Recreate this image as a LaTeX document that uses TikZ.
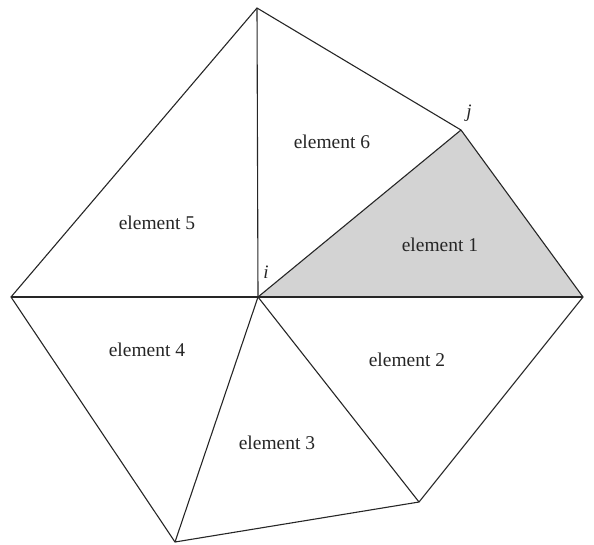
\documentclass[tikz,border=0pt]{standalone}
\usepackage{fontspec}
\setmainfont{Liberation Serif}
\begin{document}
\begin{tikzpicture}[x=1pt,y=-1pt,
  edge/.style={draw=black!85,line width=1.1pt,line join=miter},
  elabel/.style={font=\fontsize{19.5}{22}\selectfont,text=black!85},
  vlabel/.style={font=\fontsize{19}{21}\selectfont\itshape,text=black!85}]
\useasboundingbox (0,0) rectangle (594,544);
\coordinate (i) at (258,297);
\coordinate (t) at (257,8);
\coordinate (j) at (461,130);
\coordinate (l) at (583,297);
\coordinate (br) at (419,502);
\coordinate (b) at (175,542);
\coordinate (lf) at (11,297);
\fill[fill={rgb,255:red,211;green,211;blue,211}] (i) -- (j) -- (l) -- cycle;
\draw[edge] (t) -- (j) -- (l) -- (br) -- (b) -- (lf) -- cycle;
\foreach \v in {t,j,l,br,b,lf} \draw[edge] (i) -- (\v);
\node[elabel] (e6) at (332,142) {element 6};
\node[elabel] (e5) at (157,223) {element 5};
\node[elabel] (e1) at (440,245) {element 1};
\node[elabel] (e4) at (147,350) {element 4};
\node[elabel] (e2) at (407,360) {element 2};
\node[elabel] (e3) at (277,443) {element 3};
\node[vlabel] (li) at (266,272) {i};
\node[vlabel] (lj) at (469,113) {j};
\node[vlabel] (lk) at (597,287) {l};
\end{tikzpicture}
\end{document}
